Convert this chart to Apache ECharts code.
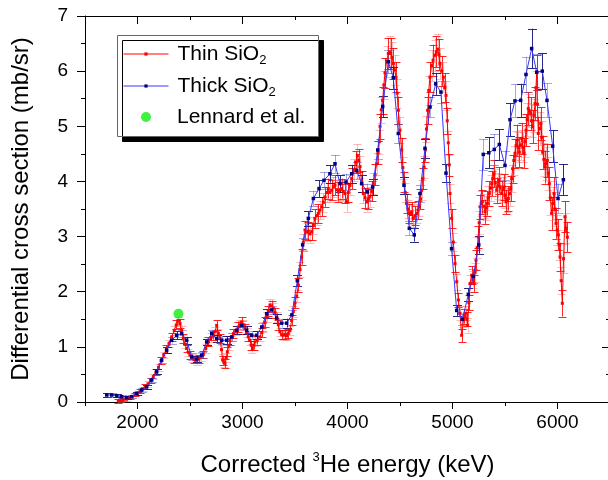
<!DOCTYPE html>
<html><head><meta charset="utf-8">
<script src="https://cdn.jsdelivr.net/npm/echarts@6/dist/echarts.min.js"></script>
<style>html,body{margin:0;padding:0;background:#fff}#c{width:608px;height:480px}</style>
</head><body><div id="c"></div>
<script>
// Thin SiO2 : energy (keV), cross section (mb/sr), error
const thinX = [
1817,1840,1865,1897,1925,1950,1976,2000,2025,2050,
2075,2100,2125,2150,2175,2200,2225,2250,2275,2300,
2325,2350,2370,2389,2405,2420,2436,2452,2468,2485,
2500,2520,2540,2563,2585,2605,2627,2650,2675,2700,
2722,2740,2754,2770,2786,2800,2811,2822,2833,2845,
2856,2870,2881,2897,2913,2935,2960,2976,2992,3008,
3024,3040,3055,3071,3083,3094,3107,3119,3140,3167,
3183,3198,3214,3230,3246,3262,3278,3294,3310,3325,
3341,3357,3373,3389,3405,3420,3436,3452,3468,3484,
3500,3516,3532,3548,3563,3579,3595,3611,3627,3643,
3659,3675,3690,3706,3722,3738,3754,3770,3786,3801,
3817,3833,3849,3865,3881,3897,3913,3929,3944,3960,
3976,3992,4008,4024,4040,4062,4078,4094,4106,4119,
4135,4151,4167,4183,4199,4214,4230,4246,4262,4278,
4290,4303,4310,4322,4335,4346,4357,4373,4389,4400,
4411,4424,4437,4450,4462,4473,4484,4500,4516,4527,
4538,4550,4563,4576,4589,4600,4611,4627,4643,4659,
4672,4684,4695,4706,4718,4729,4741,4752,4763,4774,
4785,4800,4815,4833,4846,4859,4870,4881,4897,4913,
4926,4938,4950,4960,4968,4976,4992,5008,5024,5040,
5056,5071,5087,5103,5114,5125,5135,5144,5156,5167,
5183,5194,5205,5215,5224,5235,5246,5254,5262,5273,
5284,5297,5310,5321,5332,5341,5351,5362,5373,5384,
5395,5408,5421,5432,5443,5455,5468,5479,5490,5500,
5510,5521,5532,5543,5554,5563,5573,5584,5595,5606,
5617,5627,5637,5648,5659,5670,5681,5690,5700,5711,
5722,5733,5744,5753,5763,5775,5786,5795,5802,5809,
5817,5829,5840,5850,5859,5870,5881,5892,5903,5912,
5922,5933,5944,5955,5967,5976,5986,5997,6008,6016,
6024,6035,6046,6058,6071,6083,6094];
const thinY = [
0.02,0.03,0.04,0.05,0.08,0.10,0.13,0.16,0.20,0.24,
0.28,0.33,0.39,0.46,0.54,0.63,0.75,0.85,0.96,1.06,
1.18,1.30,1.40,1.47,1.42,1.30,1.15,1.05,0.97,0.90,
0.85,0.80,0.77,0.75,0.78,0.82,0.86,0.97,1.09,1.17,
1.21,1.28,1.39,1.25,1.15,0.95,0.76,0.72,0.70,0.80,
0.91,1.02,1.12,1.18,1.24,1.30,1.36,1.40,1.45,1.40,
1.33,1.26,1.18,1.12,1.03,0.97,1.03,1.09,1.12,1.18,
1.26,1.36,1.45,1.54,1.65,1.76,1.74,1.70,1.62,1.54,
1.40,1.27,1.22,1.21,1.23,1.20,1.24,1.30,1.48,1.64,
1.80,1.92,2.12,2.40,2.63,2.90,3.12,3.08,3.10,3.05,
3.09,3.20,3.33,3.38,3.42,3.48,3.54,3.62,3.72,3.80,
3.87,3.80,3.84,3.90,3.93,3.85,3.81,3.85,3.87,3.82,
3.78,3.63,3.80,3.93,4.05,4.20,4.35,4.47,4.38,4.27,
4.00,3.78,3.70,3.63,3.68,3.72,3.82,3.96,4.12,4.32,
4.52,4.72,5.00,5.30,5.47,5.75,5.97,6.18,6.32,6.35,
6.32,6.25,6.14,6.02,5.89,5.60,5.29,4.93,4.57,4.25,
3.99,3.80,3.60,3.50,3.42,3.40,3.45,3.33,3.38,3.42,
3.48,3.54,3.68,3.84,4.05,4.26,4.57,4.95,5.29,5.65,
5.89,6.10,6.20,6.29,6.35,6.40,6.30,6.14,6.00,5.89,
5.70,5.56,5.10,4.70,4.30,3.78,3.33,2.90,2.51,2.18,
1.85,1.61,1.21,1.49,1.55,1.61,1.50,1.39,1.80,2.15,
2.30,2.22,2.15,2.35,2.57,2.80,2.99,3.25,3.54,3.60,
3.63,3.55,3.45,3.52,3.60,3.70,3.78,3.88,3.96,4.05,
4.14,3.98,3.84,3.92,4.02,3.90,3.78,3.85,3.90,3.75,
3.63,3.66,3.69,3.78,3.87,4.05,4.23,4.38,4.51,4.65,
4.75,4.62,4.53,4.66,4.78,4.62,4.51,4.72,4.93,5.12,
5.32,5.28,5.23,5.10,4.99,5.20,5.41,5.70,5.98,5.40,
4.87,4.96,5.05,4.80,4.53,4.40,4.26,4.32,4.38,4.15,
3.96,3.70,3.42,3.60,3.78,3.50,3.24,3.12,3.03,2.85,
2.63,2.20,1.79,2.60,3.36,3.15,2.99];
const thinErr = [
.03,.03,.03,.03,.03,.03,.03,.04,.04,.04,
.04,.05,.05,.05,.05,.06,.06,.06,.07,.07,
.07,.08,.08,.08,.08,.08,.08,.07,.07,.07,
.07,.07,.07,.07,.07,.07,.07,.08,.08,.08,
.08,.08,.09,.08,.08,.08,.08,.08,.08,.08,
.08,.08,.08,.08,.08,.08,.09,.09,.09,.09,
.09,.08,.08,.08,.08,.08,.08,.08,.08,.08,
.08,.09,.09,.09,.09,.10,.10,.10,.09,.09,
.09,.08,.08,.08,.08,.08,.08,.08,.09,.10,
.10,.11,.12,.13,.14,.15,.16,.16,.16,.16,
.16,.16,.17,.17,.17,.17,.17,.17,.18,.18,
.18,.18,.18,.18,.18,.18,.18,.18,.18,.18,
.18,.18,.18,.18,.19,.20,.20,.20,.20,.20,
.19,.18,.18,.18,.18,.18,.18,.19,.19,.20,
.21,.22,.23,.24,.25,.26,.27,.28,.28,.28,
.28,.28,.28,.27,.27,.26,.25,.23,.22,.20,
.19,.18,.17,.17,.17,.17,.17,.16,.17,.17,
.17,.17,.18,.18,.19,.20,.21,.23,.25,.26,
.27,.28,.28,.28,.28,.28,.28,.28,.27,.27,
.26,.26,.24,.22,.20,.18,.17,.16,.15,.14,
.13,.13,.12,.13,.13,.13,.13,.13,.14,.15,
.16,.16,.16,.17,.18,.19,.20,.21,.22,.22,
.22,.22,.22,.22,.22,.22,.22,.23,.23,.24,
.24,.24,.23,.23,.24,.23,.23,.23,.23,.23,
.22,.22,.22,.23,.23,.24,.25,.26,.26,.27,
.28,.27,.27,.27,.28,.27,.27,.28,.29,.30,
.30,.30,.30,.30,.30,.30,.30,.31,.32,.30,
.30,.30,.30,.30,.30,.30,.30,.30,.30,.30,
.30,.30,.30,.30,.30,.30,.28,.28,.28,.27,
.26,.25,.24,.26,.28,.27,.27];

// Thick SiO2
const thickX = [
1707,1754,1802,1849,1897,1944,1992,2040,2087,2135,
2183,2230,2278,2325,2373,2421,2468,2516,2563,2611,
2659,2707,2754,2802,2849,2897,2944,2992,3040,3087,
3135,3183,3230,3278,3325,3373,3421,3470,3522,3573,
3627,3675,3729,3776,3833,3881,3929,3986,4040,4088,
4135,4189,4240,4288,4335,4389,4436,4484,4538,4589,
4636,4690,4738,4786,4840,4890,4938,4991,5040,5094,
5151,5198,5250,5293,5346,5398,5446,5500,5548,5595,
5649,5700,5754,5802,5855,5900,5954,6005,6056];
const thickY = [
0.127,0.127,0.115,0.097,0.080,0.097,0.157,0.217,0.277,0.40,
0.55,0.76,0.94,1.12,1.21,1.24,1.12,0.82,0.78,0.85,
1.09,1.24,1.15,1.12,1.12,1.18,1.30,1.39,1.30,1.21,
1.21,1.36,1.60,1.67,1.52,1.43,1.43,1.58,2.20,2.85,
3.33,3.69,3.87,4.02,4.14,4.32,3.96,3.99,4.14,4.20,
3.96,3.81,3.90,4.57,5.36,6.17,5.88,4.87,3.93,3.15,
3.03,3.78,4.60,5.35,5.77,5.62,4.15,2.78,1.66,1.50,
1.95,2.28,2.85,4.49,4.52,4.58,4.67,4.29,5.12,5.46,
5.47,5.94,6.41,5.98,6.00,5.47,4.64,3.69,4.03];
const thickErr = [
.03,.03,.03,.03,.03,.03,.03,.04,.04,.04,
.05,.05,.06,.06,.07,.07,.06,.06,.06,.06,
.06,.07,.07,.07,.07,.07,.07,.07,.07,.07,
.07,.07,.08,.08,.08,.08,.08,.08,.10,.12,
.13,.14,.15,.15,.16,.16,.15,.15,.16,.16,
.15,.15,.15,.17,.19,.21,.20,.17,.15,.13,
.12,.15,.17,.19,.20,.20,.16,.12,.10,.10,
.11,.13,.16,.28,.28,.28,.28,.27,.30,.30,
.30,.32,.36,.33,.33,.31,.29,.27,.28];

// Lennard et al.
const lennardX = [2390];
const lennardY = [1.60];

// axis ticks
const xMajorTicks = [2000, 3000, 4000, 5000, 6000];
const xMinorTicks = [1500, 2500, 3500, 4500, 5500, 6500];

const FONT = "'Liberation Sans', Arial, sans-serif";

function zip(xs, ys, es) {
  return xs.map((x, i) => es ? [x, ys[i], es[i]] : [x, ys[i]]);
}

function errorBars(colA, colB, half) {
  return function (params, api) {
    const x = api.value(0), y = api.value(1), e = api.value(2);
    const t = api.coord([x, y + e]);
    const b = api.coord([x, y - e]);
    const cx = Math.round(t[0]) + 0.5;
    const col = params.dataIndex % 2 ? colB : colA;
    const st = { stroke: col, lineWidth: 1 };
    return {
      type: 'group',
      children: [
        { type: 'line', shape: { x1: cx, y1: t[1], x2: cx, y2: b[1] }, style: st },
        { type: 'line', shape: { x1: cx - half, y1: Math.round(t[1]) + 0.5, x2: cx + half, y2: Math.round(t[1]) + 0.5 }, style: st },
        { type: 'line', shape: { x1: cx - half, y1: Math.round(b[1]) + 0.5, x2: cx + half, y2: Math.round(b[1]) + 0.5 }, style: st }
      ]
    };
  };
}

const chart = echarts.init(document.getElementById('c'), null, { renderer: 'canvas' });

const black = { color: '#000', width: 1 };
const legendText = {
  fontSize: 21, color: '#000', fontFamily: FONT, lineHeight: 26, padding: [0, 0, 0, 4],
  rich: { s: { fontSize: 13, lineHeight: 9, verticalAlign: 'bottom', color: '#000', fontFamily: FONT } }
};

chart.setOption({
  animation: false,
  backgroundColor: '#fff',
  grid: { left: 85, top: 16, width: 525, height: 386, containLabel: false, outerBoundsMode: 'none' },
  xAxis: [
    {
      type: 'value', min: 1500, max: 6500, position: 'bottom',
      axisLine: { show: true, lineStyle: black },
      axisTick: { show: true, customValues: xMajorTicks, length: 7, lineStyle: black },
      axisLabel: { customValues: xMajorTicks, formatter: v => String(v), fontSize: 19, color: '#000', fontFamily: FONT, margin: 11 },
      splitLine: { show: false },
      name: 'Corrected {sup|3}He energy (keV)', nameLocation: 'middle', nameGap: 49,
      nameTextStyle: {
        fontSize: 24, color: '#000', fontFamily: FONT, lineHeight: 28,
        rich: { sup: { fontSize: 13, lineHeight: 12, verticalAlign: 'top', color: '#000', fontFamily: FONT } }
      }
    },
    {
      type: 'value', min: 1500, max: 6500, position: 'bottom',
      axisLine: { show: false },
      axisTick: { show: true, customValues: xMinorTicks, length: 4, lineStyle: black },
      axisLabel: { show: false }, splitLine: { show: false }
    },
    {
      type: 'value', min: 1500, max: 6500, position: 'top',
      axisLine: { show: true, lineStyle: black },
      axisTick: { show: true, inside: true, customValues: xMajorTicks, length: 8, lineStyle: black },
      axisLabel: { show: false }, splitLine: { show: false }
    },
    {
      type: 'value', min: 1500, max: 6500, position: 'top',
      axisLine: { show: false },
      axisTick: { show: true, inside: true, customValues: xMinorTicks, length: 4, lineStyle: black },
      axisLabel: { show: false }, splitLine: { show: false }
    }
  ],
  yAxis: [
    {
      type: 'value', min: 0, max: 7, interval: 1, position: 'left',
      axisLine: { show: true, lineStyle: black },
      axisTick: { show: true, length: 8, lineStyle: black },
      minorTick: { show: true, splitNumber: 2, length: 4, lineStyle: black },
      axisLabel: { fontSize: 19, color: '#000', fontFamily: FONT, margin: 17 },
      splitLine: { show: false }, minorSplitLine: { show: false },
      name: 'Differential cross section (mb/sr)', nameLocation: 'middle', nameGap: 50, nameRotate: 90,
      nameTextStyle: { fontSize: 24, color: '#000', fontFamily: FONT, lineHeight: 28 }
    },
    {
      type: 'value', min: 0, max: 7, interval: 1, position: 'right',
      axisLine: { show: true, lineStyle: black },
      axisTick: { show: true, inside: true, length: 8, lineStyle: black },
      minorTick: { show: true, splitNumber: 2, length: 4, lineStyle: black },
      axisLabel: { show: false }, splitLine: { show: false }, minorSplitLine: { show: false }
    }
  ],
  legend: [
    {
      data: ['Thin SiO2', 'Thick SiO2'], orient: 'vertical', left: 123, top: 41,
      itemWidth: 45, itemHeight: 4, itemGap: 6, padding: 0, z: 20, selectedMode: false,
      lineStyle: { width: 1 },
      formatter: n => n.replace('SiO2', 'SiO{s|2}'), textStyle: legendText
    },
    {
      data: ['Lennard et al.'], orient: 'vertical', left: 141, top: 104,
      itemWidth: 10, itemHeight: 10, padding: 0, z: 20, selectedMode: false, icon: 'circle',
      textStyle: { fontSize: 21, color: '#000', fontFamily: FONT, lineHeight: 26, padding: [0, 0, 0, 21] }
    }
  ],
  graphic: [{
    type: 'rect', z: 15,
    shape: { x: 117.5, y: 35.5, width: 201, height: 101 },
    style: { fill: '#fff', stroke: '#666', lineWidth: 1, shadowColor: '#000', shadowOffsetX: 5, shadowOffsetY: 5, shadowBlur: 0 }
  }],
  series: [
    {
      type: 'custom', name: 'thinErr', silent: true,
      renderItem: errorBars('rgba(255,0,0,0.85)', 'rgba(255,100,100,0.45)', 4),
      data: zip(thinX, thinY, thinErr), encode: { x: 0, y: 1 }, z: 2
    },
    {
      type: 'custom', name: 'thickErr', silent: true,
      renderItem: errorBars('rgba(20,20,130,0.9)', 'rgba(80,80,200,0.5)', 4.5),
      data: zip(thickX, thickY, thickErr), encode: { x: 0, y: 1 }, z: 3
    },
    {
      type: 'line', name: 'Thin SiO2', data: zip(thinX, thinY),
      symbol: 'rect', symbolSize: 3, showSymbol: true,
      lineStyle: { color: '#ff0000', width: 1 }, itemStyle: { color: '#ff0000' }, z: 4
    },
    {
      type: 'line', name: 'Thick SiO2', data: zip(thickX, thickY),
      symbol: 'rect', symbolSize: 3.5, showSymbol: true,
      lineStyle: { color: '#3535ff', width: 1 }, itemStyle: { color: '#000080' }, z: 5
    },
    {
      type: 'scatter', name: 'Lennard et al.', data: zip(lennardX, lennardY),
      symbol: 'circle', symbolSize: 10, itemStyle: { color: '#11ee11' }, z: 6
    }
  ]
});
</script>
</body></html>
